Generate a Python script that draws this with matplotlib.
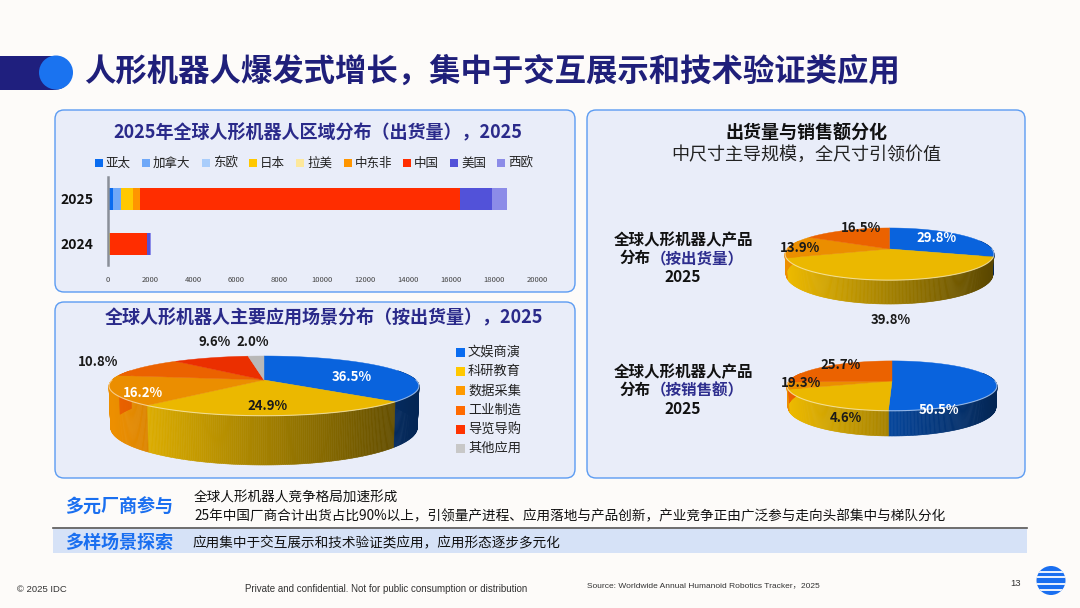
import numpy as np
import matplotlib
matplotlib.use('Agg')
from matplotlib import pyplot as plt
from matplotlib.patches import FancyBboxPatch, Rectangle, Circle, Polygon
from matplotlib.colors import to_rgb

plt.rcParams['font.family'] = ['Noto Sans CJK SC', 'DejaVu Sans']

# ---- data ----
regions = ['亚太', '加拿大', '东欧', '日本', '拉美', '中东非', '中国', '美国', '西欧']
region_colors = ['#0a6cf0', '#6fa8f8', '#a9cdfb', '#ffc800', '#fde89c', '#ff9500', '#ff2d00', '#5252d9', '#8c8ce8']
years = ['2024', '2025']
ship_2024 = [40, 10, 5, 40, 5, 30, 1690, 155, 60]
ship_2025 = [250, 360, 20, 545, 10, 310, 14930, 1490, 685]

scenes = ['文娱商演', '科研教育', '数据采集', '工业制造', '导览导购', '其他应用']
scene_share = [36.5, 24.9, 16.2, 10.8, 9.6, 2.0]
scene_colors = ['#0a6cf0', '#ffc800', '#ff9a00', '#ff6a00', '#ff3300', '#c8c8c8']

size_colors = ['#0a6cf0', '#ffc800', '#ff9a00', '#ff6a00']
size_ship = [29.8, 39.8, 13.9, 16.5]
size_sales = [50.5, 19.3, 4.6, 25.7]
# labels as printed on the sales pie (in slice order)
sales_text = ['50.5%', '4.6%', '19.3%', '25.7%']

fig = plt.figure(figsize=(10.8, 6.08), dpi=100)
fig.patch.set_facecolor('#fdfbf9')
bg = fig.add_axes([0, 0, 1, 1])
bg.set_xlim(0, 1080)
bg.set_ylim(608, 0)
bg.axis('off')

navy = '#1f1f7a'

# ---- header ----
bg.add_patch(FancyBboxPatch((-30, 56), 100, 34, boxstyle='round,pad=0,rounding_size=17',
                            fc='#1f1f7e', ec='none'))
bg.add_patch(Circle((56, 72.5), 17, fc='#1a73f0', ec='none'))
bg.text(84, 72, '人形机器人爆发式增长，集中于交互展示和技术验证类应用', fontsize=22.6,
        fontweight='bold', color=navy, va='center', ha='left')

# ---- panels ----
def panel(x, y, w, h):
    bg.add_patch(FancyBboxPatch((x, y), w, h, boxstyle='round,pad=0,rounding_size=9',
                                fc='#e9edf9', ec='#5b9bf2', lw=1))

panel(55, 110, 520, 182)
panel(55, 302, 520, 176)
panel(587, 110, 438, 368)

# ---- stacked bar chart ----
bg.text(318, 133, '2025年全球人形机器人区域分布（出货量），2025', fontsize=13, fontweight='bold',
        color='#2a2a8a', ha='center', va='center')
leg_x = [95, 142, 202, 249, 296, 344, 403, 450, 497]
for lx, name, col in zip(leg_x, regions, region_colors):
    bg.add_patch(Rectangle((lx, 159), 8, 8, fc=col, ec='none'))
    bg.text(lx + 11, 163, name, fontsize=9, va='center', ha='left', color='#222222')

ax = fig.add_axes([107.5 / 1080, 1 - 265 / 608, (537.3 - 107.5) / 1080, 88 / 608])
ax.patch.set_alpha(0)
data = np.array([ship_2024, ship_2025], dtype=float)
left = np.zeros(2)
for j, col in enumerate(region_colors):
    ax.barh([0, 1], data[:, j], left=left, height=0.5, color=col, edgecolor='none')
    left += data[:, j]
ax.set_xlim(0, 20000)
ax.set_ylim(-0.47, 1.49)
ax.set_yticks([0, 1])
ax.set_yticklabels(years, fontsize=10, fontweight='bold', color='#111111')
ax.set_xticks(np.arange(0, 20001, 2000))
ax.tick_params(axis='x', labelsize=5.5, colors='#444444', length=0, pad=8)
ax.tick_params(axis='y', length=0, pad=10)
for sp in ['top', 'right', 'bottom']:
    ax.spines[sp].set_visible(False)
ax.spines['left'].set_color('#8a8f99')
ax.spines['left'].set_linewidth(1.8)


# ---- 3D pie helper ----
def pie3d(vals, colors, cx, cy, R, s, D, h):
    c = np.sqrt(1 - s * s)

    def P(phi, r=1.0, hh=0.0):
        X = r * np.sin(phi)
        Z = -r * np.cos(phi)
        d = D - Z * c + hh * s
        return cx + R * X * D / d, cy + R * (Z * s + hh * c) * D / d

    bounds = np.concatenate([[0], np.cumsum(vals) / np.sum(vals) * 2 * np.pi])
    # side walls with left-to-right shading
    for i, col in enumerate(colors):
        base = np.array(to_rgb(col)) * 0.93
        lo = max(bounds[i], np.pi / 2 - 0.35)
        hi = min(bounds[i + 1], 3 * np.pi / 2 + 0.35)
        if hi <= lo:
            continue
        phis = np.linspace(lo, hi, max(3, int((hi - lo) * 90)))
        for a, b in zip(phis[:-1], phis[1:]):
            p1, p2 = P(a), P(b)
            p3, p4 = P(b, hh=h), P(a, hh=h)
            t = ((p1[0] + p2[0]) / 2 - (cx - R)) / (2 * R)
            f = 1 - 0.62 * np.clip(t, 0, 1)
            shade = np.clip(base * f, 0, 1)
            bg.add_patch(Polygon([p1, p2, p3, p4], closed=True, fc=shade, ec=shade, lw=0.4))
    # top faces
    for i, col in enumerate(colors):
        base = np.clip(np.array(to_rgb(col)) * 0.92, 0, 1)
        phis = np.linspace(bounds[i], bounds[i + 1], max(3, int((bounds[i + 1] - bounds[i]) * 60)))
        pts = [P(0, r=0)] + [P(p) for p in phis]
        bg.add_patch(Polygon(pts, closed=True, fc=base, ec=base, lw=0.3))
    front = np.linspace(np.pi / 2, 3 * np.pi / 2, 80)
    fp = np.array([P(p) for p in front])
    bg.plot(fp[:, 0], fp[:, 1], color='white', lw=0.8, alpha=0.55)


# ---- application scene pie ----
bg.text(324, 318, '全球人形机器人主要应用场景分布（按出货量），2025', fontsize=13, fontweight='bold',
        color='#2a2a8a', ha='center', va='center')
pie3d(scene_share, scene_colors, 264, 380, 152, 0.189, 5, 0.271)
scene_pos = [(352, 377), (268, 406), (143, 393), (98, 362), (215, 342), (253, 342)]
scene_tc = ['white', '#1a1a1a', 'white', '#1a1a1a', '#1a1a1a', '#1a1a1a']
for v, (px, py), tc in zip(scene_share, scene_pos, scene_tc):
    bg.text(px, py, f'{v:.1f}%', fontsize=9.5, fontweight='bold', color=tc, ha='center', va='center')
for k, (name, col) in enumerate(zip(scenes, scene_colors)):
    yy = 352.3 + k * 19.3
    bg.add_patch(Rectangle((456, yy - 4.5), 9, 9, fc=col, ec='none'))
    bg.text(468, yy, name, fontsize=9.5, va='center', ha='left', color='#222222')

# ---- right panel ----
bg.text(806, 133, '出货量与销售额分化', fontsize=13, fontweight='bold', color='#111111',
        ha='center', va='center')
bg.text(806, 155, '中尺寸主导规模，全尺寸引领价值', fontsize=13, color='#222222',
        ha='center', va='center')

for y0, tag in [(240, '（按出货量）'), (372, '（按销售额）')]:
    bg.text(683, y0, '全球人形机器人产品', fontsize=11.2, fontweight='bold', color='#111111',
            ha='center', va='center')
    bg.text(620, y0 + 18, '分布', fontsize=11.2, fontweight='bold', color='#111111',
            ha='left', va='center')
    bg.text(651, y0 + 18, tag, fontsize=11.2, fontweight='bold', color='#2e2e8e',
            ha='left', va='center')
    bg.text(683, y0 + 37, '2025', fontsize=11.2, fontweight='bold', color='#111111',
            ha='center', va='center')

pie3d(size_ship, size_colors, 889.5, 249, 102.5, 0.245, 5, 0.199)
ship_pos = [(937, 238), (891, 320), (800, 248), (861, 228)]
ship_tc = ['white', '#1a1a1a', '#1a1a1a', '#1a1a1a']
for v, (px, py), tc in zip(size_ship, ship_pos, ship_tc):
    bg.text(px, py, f'{v:.1f}%', fontsize=9.5, fontweight='bold', color=tc, ha='center', va='center')

pie3d(size_sales, size_colors, 892, 381, 103, 0.233, 5, 0.208)
sales_pos = [(939, 410), (846, 418), (801, 383), (841, 365)]
sales_tc = ['white', '#1a1a1a', '#1a1a1a', '#1a1a1a']
for lab, (px, py), tc in zip(sales_text, sales_pos, sales_tc):
    bg.text(px, py, lab, fontsize=9.5, fontweight='bold', color=tc, ha='center', va='center')

# ---- bottom notes ----
bg.text(65, 507, '多元厂商参与', fontsize=13, fontweight='bold', color='#1a6ff0', va='center')
bg.text(194, 498, '全球人形机器人竞争格局加速形成', fontsize=9.8, color='#111111', va='center')
bg.text(194, 516, '25年中国厂商合计出货占比90%以上，引领量产进程、应用落地与产品创新，产业竞争正由广泛参与走向头部集中与梯队分化',
        fontsize=9.8, color='#111111', va='center')
bg.add_patch(Rectangle((53, 528.5), 974, 24.5, fc='#d6e2f7', ec='none'))
bg.plot([53, 1027], [528, 528], color='#555555', lw=1.2)
bg.text(65, 542, '多样场景探索', fontsize=13, fontweight='bold', color='#1a6ff0', va='center')
bg.text(192, 542, '应用集中于交互展示和技术验证类应用，应用形态逐步多元化', fontsize=9.8,
        color='#111111', va='center')

# ---- footer ----
bg.text(17, 589, '© 2025 IDC', fontsize=6.8, color='#333333', va='center', family='Liberation Sans')
bg.text(386, 589, 'Private and confidential. Not for public consumption or distribution', fontsize=7.0,
        color='#333333', va='center', ha='center', family='Liberation Sans')
bg.text(587, 586, 'Source: Worldwide Annual Humanoid Robotics Tracker，2025', fontsize=6.0,
        color='#333333', va='center', ha='left', family=['Liberation Sans', 'Noto Sans CJK SC'])
bg.text(1016, 584, '13', fontsize=6.8, color='#333333', va='center', ha='center', family='Liberation Sans')
logo = Circle((1051, 580.5), 14.5, fc='#1a6ff0', ec='none')
bg.add_patch(logo)
for yy in [572.3, 576.7, 584.3, 589.7]:
    ln, = bg.plot([1034, 1068], [yy, yy], color='white', lw=1.3)
    ln.set_clip_path(logo)

fig.savefig('out.png', dpi=100, facecolor=fig.get_facecolor())
